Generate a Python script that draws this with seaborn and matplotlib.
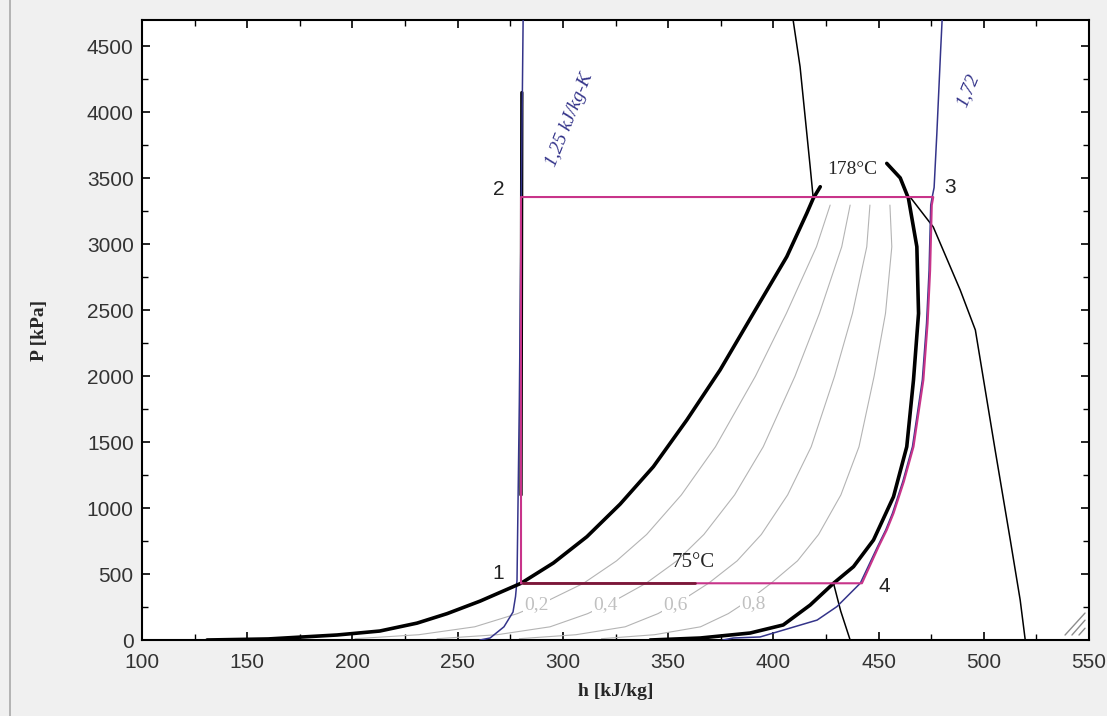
import numpy as np
import pandas as pd
import matplotlib
matplotlib.use("Agg")
import matplotlib.pyplot as plt
from matplotlib.lines import Line2D
from matplotlib.ticker import MultipleLocator
import seaborn as sns

# saturation dome
liq_h = [130.9, 160, 192.7, 213, 230.7, 245, 260.7, 280.1, 295.5, 311.4, 327.2, 343.0, 358.9,
         374.7, 390.5, 406.4, 415.9, 419.0, 422.3]
liq_p = [0, 8, 38, 68, 128, 200, 295, 430, 584, 783, 1030, 1314, 1668,
         2047, 2476, 2906, 3235, 3349, 3436]
vap_h = [341.5, 365.2, 389, 404.7, 417.5, 428.6, 438.1, 447.6, 457.1, 463.4, 466.6, 469.0, 468.2,
         464.2, 460.3, 453.9]
vap_p = [0, 15, 53, 114, 265, 430, 556, 758, 1086, 1465, 1971, 2476, 2981,
         3348, 3503, 3613]

# quality lines x = 0.2 ... 0.8
q_p = [10, 40, 100, 200, 300, 430, 600, 800, 1100, 1465, 2000, 2476, 2981, 3297]
q_h = {
    "0,2": [201.2, 231.5, 258.1, 278.4, 293.1, 309.8, 325.5, 339.8, 356.3, 372.5, 391.5, 406.2, 420.5, 427.0],
    "0,4": [240.2, 268.8, 293.9, 311.8, 324.8, 339.5, 354.2, 367.0, 381.6, 395.2, 410.3, 421.9, 432.5, 436.5],
    "0,6": [279.3, 306.2, 329.6, 345.2, 356.5, 369.2, 382.8, 394.3, 406.8, 418.0, 429.1, 437.6, 444.4, 445.9],
    "0,8": [318.3, 343.5, 365.4, 378.6, 388.2, 398.9, 411.5, 421.5, 432.1, 440.7, 447.9, 453.3, 456.3, 455.4],
}
q_lab_h = [287.6, 320.1, 353.3, 390.4]
q_lab_p = [265, 265, 265, 278]

# cycle 1-2-3-4-1
cyc_h = [280.1, 280.1, 476.0, 475.3, 474.5, 473.3, 471.3, 466.6, 462.0, 457.1, 453.9, 450.0, 442.1, 280.1]
cyc_p = [430, 3358, 3358, 3297, 2800, 2400, 1971, 1465, 1200, 960, 834, 707, 430, 430]
pt_lab = ["1", "2", "3", "4"]
pt_h = [269.3, 269.3, 484.0, 452.7]
pt_p = [505, 3418, 3434, 409]

# isotherms 178 C and 75 C
t178_liq_h = [409.4, 412.7, 415.1, 417.5, 418.9]
t178_liq_p = [4700, 4346, 3967, 3588, 3358]
t178_vap_h = [465.0, 476.0, 488.8, 496.0, 505.4, 512.6, 517.3, 519.7]
t178_vap_p = [3358, 3131, 2653, 2350, 1440, 758, 303, 0]
t75_vap_h = [428.6, 432.0, 436.5]
t75_vap_p = [430, 220, 0]
t75_two_h = [281.0, 362.8]
t75_two_p = [430, 430]
t_liq_h = [280.1, 280.5]
t_liq_p = [1100, 4150]

# isentropes 1.25 and 1.72 kJ/kg-K
s125_h = [260.6, 265.4, 272.0, 276.3, 277.5, 278.2, 279.3, 280.2, 281.1]
s125_p = [0, 15, 100, 212, 330, 454, 1800, 3300, 4700]
s172_h = [376.0, 381.0, 393.7, 420.8, 430.2, 441.3, 449.5, 453.4, 456.6, 461.5, 466.1, 470.8,
          472.8, 474.0, 474.8, 475.5, 476.4, 477.7, 479.5, 480.2]
s172_p = [0, 15, 23, 151, 253, 430, 707, 834, 960, 1200, 1465, 1971,
          2400, 2800, 3297, 3358, 3430, 3840, 4470, 4700]

sns.set_style("ticks")
plt.rcParams["font.family"] = ["Liberation Sans", "DejaVu Sans"]
plt.rcParams["xtick.direction"] = "in"
plt.rcParams["ytick.direction"] = "in"

fig = plt.figure(figsize=(11.07, 7.16), dpi=100, facecolor="#f0f0f0")
ax = fig.add_axes([142 / 1107, 76 / 716, 947 / 1107, 620 / 716])
ax.set_facecolor("white")

navy = "#34348a"
mag = "#c8348a"


def curve(h, p, **kw):
    df = pd.DataFrame({"h": h, "P": p})
    sns.lineplot(data=df, x="h", y="P", ax=ax, sort=False, estimator=None,
                 legend=False, **kw)


for lab, hs in q_h.items():
    curve(hs, q_p, color="#b4b4b4", lw=0.8, zorder=2)
for lab, h, p in zip(q_h.keys(), q_lab_h, q_lab_p):
    ax.text(h, p, lab, color="#c0c0c0", fontsize=14, family="Liberation Serif",
            ha="center", va="center", zorder=2.5,
            bbox=dict(facecolor="white", edgecolor="none", pad=1))

curve(t_liq_h, t_liq_p, color="black", lw=2.4, zorder=3)
curve(t178_liq_h, t178_liq_p, color="black", lw=1.1, zorder=3)
curve(t178_vap_h, t178_vap_p, color="black", lw=1.1, zorder=3)
curve(t75_vap_h, t75_vap_p, color="black", lw=1.1, zorder=3)
curve(s125_h, s125_p, color=navy, lw=1.1, zorder=3)
curve(s172_h, s172_p, color=navy, lw=1.1, zorder=3)
curve(liq_h, liq_p, color="black", lw=2.6, zorder=4)
curve(vap_h, vap_p, color="black", lw=2.6, zorder=4)
curve(cyc_h, cyc_p, color=mag, lw=1.5, zorder=5)
curve(t75_two_h, t75_two_p, color="#7a1838", lw=2.0, zorder=6)

for lab, h, p in zip(pt_lab, pt_h, pt_p):
    ax.text(h, p, lab, fontsize=15, color="#222222", ha="center", va="center", zorder=7)

ax.text(437.3, 3563, "178°C", fontsize=14, family="Liberation Serif",
        ha="center", va="center", zorder=7)
ax.text(361.9, 590, "75°C", fontsize=15, family="Liberation Serif",
        ha="center", va="center", zorder=7)
ax.text(303.4, 3942, "1,25 kJ/kg-K", fontsize=14, family="Liberation Serif",
        style="italic", color=navy, rotation=68, ha="center", va="center", zorder=7)
ax.text(492.6, 4169, "1,72", fontsize=14, family="Liberation Serif",
        style="italic", color=navy, rotation=68, ha="center", va="center", zorder=7)

ax.set_xlim(100, 550)
ax.set_ylim(0, 4700)
ax.xaxis.set_major_locator(MultipleLocator(50))
ax.xaxis.set_minor_locator(MultipleLocator(25))
ax.yaxis.set_major_locator(MultipleLocator(500))
ax.yaxis.set_minor_locator(MultipleLocator(250))
ax.tick_params(which="both", top=True, right=True, direction="in",
               color="black", labelsize=15, labelcolor="#333333")
ax.tick_params(which="major", length=6, width=1.2)
ax.tick_params(which="minor", length=4, width=1.0)
ax.tick_params(axis="x", pad=9)
ax.tick_params(axis="y", pad=6)
for sp in ax.spines.values():
    sp.set_color("black")
    sp.set_linewidth(1.5)

ax.set_xlabel("h [kJ/kg]", family="Liberation Serif", fontweight="bold",
              fontsize=14, labelpad=8)
ax.set_ylabel("P [kPa]", family="Liberation Serif", fontweight="bold",
              fontsize=14, labelpad=28)

# window border and resize grip
fig.add_artist(Line2D([10 / 1107, 10 / 1107], [0, 1], color="#a8a8a8", lw=1.2))
for x0, y1 in ((0.9747, 0.0435), (0.982, 0.032), (0.9894, 0.019)):
    ax.add_line(Line2D([x0, 0.9958], [0.008, y1], transform=ax.transAxes,
                       color="#8c8c8c", lw=1.0))

fig.savefig("out.png", dpi=100, facecolor=fig.get_facecolor())
